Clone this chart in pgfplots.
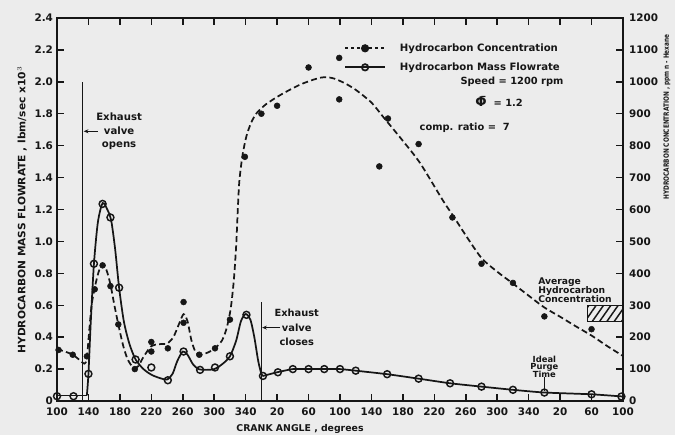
\documentclass[border=0pt]{standalone}
\usepackage{fontspec}
\setmainfont{DejaVu Sans}
\usepackage{pgfplots}
\pgfplotsset{compat=1.18}
\usetikzlibrary{patterns.meta,arrows.meta}
\definecolor{paper}{RGB}{236,236,236}
\definecolor{ink}{RGB}{22,22,22}

\newcommand{\lab}[1]{\fontsize{#1}{#1}\selectfont\bfseries}

\pgfplotsset{
  common/.style={
    at={(42.75pt,25.5pt)}, anchor=south west,
    width=424.5pt, height=287.25pt, scale only axis,
    xmin=100, xmax=820,
    tick align=inside, major tick length=5pt,
    every tick/.style={ink, line width=1.1pt},
    axis line style={ink, line width=1.4pt},
    tick label style={font=\lab{7.8}, text=ink},
    /pgf/number format/assume math mode=true,
    /pgf/number format/1000 sep={},
    clip=false,
  },
}

\begin{document}
\begin{tikzpicture}[x=1pt,y=1pt]
\fill[paper] (0,0) rectangle (506.25,326.25);

% ---------- left axis: mass flowrate ----------
\begin{axis}[common,
  ymin=0, ymax=2.4,
  xtick={100,140,...,820},
  xticklabels={100,140,180,220,260,300,340,20,60,100,140,180,220,260,300,340,20,60,100},
  xtick pos=both, xticklabel pos=lower,
  ytick={0,0.2,0.4,0.6,0.8,1.0,1.2,1.4,1.6,1.8,2.0,2.2,2.4},
  yticklabels={0,0.2,0.4,0.6,0.8,1.0,1.2,1.4,1.6,1.8,2.0,2.2,2.4},
  ytick pos=left, yticklabel pos=left,
  xticklabel style={yshift=-1.5pt},
  yticklabel style={xshift=0.5pt},
]
% valve events
\addplot[ink, line width=0.8pt] coordinates {(133,0) (133,2.0)};
\addplot[ink, line width=0.8pt] coordinates {(360,0) (360,0.62)};

% mass flowrate curve
\addplot[ink, line width=1.3pt] coordinates {(100,0.035) (138,0.035)};
\addplot[ink, line width=1.3pt, smooth, tension=0.45] coordinates {
  (138,0.035) (140,0.17) (143,0.5) (147,0.86) (152,1.12) (158,1.24) (164,1.2)
  (169,1.13) (174,0.95) (179,0.71) (185,0.5) (192,0.36) (200,0.26) (210,0.2)
  (220,0.165) (230,0.145) (240,0.135) (247,0.17) (253,0.25) (260,0.31)
  (266,0.29) (273,0.23) (280,0.2) (290,0.195) (300,0.2) (310,0.23) (320,0.28)
  (328,0.38) (334,0.5) (340,0.545) (346,0.51) (351,0.4) (356,0.25) (360,0.17)
  (362,0.157)};
\addplot[ink, line width=1.3pt, smooth, tension=0.3] coordinates {
  (362,0.157) (380,0.18) (400,0.2) (420,0.2) (440,0.2) (460,0.2) (480,0.19)
  (520,0.168) (560,0.14) (600,0.111) (640,0.09) (680,0.07) (720,0.053)
  (780,0.042) (820,0.028)};
% measured mass flowrate
\addplot[only marks, mark=o, mark size=2.6pt,
  mark options={ink, line width=1.1pt, fill=paper}] coordinates {
  (100,0.03) (121,0.03) (140,0.17) (147,0.86) (158,1.235) (168,1.15)
  (179,0.71) (200,0.26) (220,0.21) (241,0.13) (261,0.31) (282,0.195)
  (301,0.21) (320,0.28) (341,0.54) (362,0.157) (381,0.18) (400,0.2)
  (420,0.2) (440,0.2) (460,0.2) (480,0.19) (520,0.168) (560,0.14)
  (600,0.111) (640,0.09) (680,0.07) (720,0.053) (780,0.042) (818,0.028)};

% annotations
\node[align=center, font=\lab{7.6}, text=ink, inner sep=0pt]
  at (axis cs:179,1.69) {Exhaust\\[2.6pt]valve\\[2.6pt]opens};
\draw[ink, line width=1pt, -{Stealth[length=3.5pt,width=3pt]}]
  (axis cs:152,1.69) -- (axis cs:134,1.69);
\node[align=center, font=\lab{7.4}, text=ink, inner sep=0pt]
  at (axis cs:405,0.46) {Exhaust\\[3.6pt]valve\\[3.6pt]closes};
\draw[ink, line width=1pt, -{Stealth[length=3.5pt,width=3pt]}]
  (axis cs:384,0.46) -- (axis cs:361,0.46);
\node[align=center, font=\lab{6.3}, text=ink, inner sep=0pt]
  at (axis cs:720,0.215) {Ideal\\[-0.5pt]Purge\\[-0.5pt]Time};
\addplot[ink, line width=0.8pt] coordinates {(720,0.065) (720,0.15)};

\node[anchor=west, font=\lab{7.4}, text=ink, inner sep=0pt]
  at (axis cs:613,2.0) {Speed = 1200 rpm};
\node[anchor=west, font=\lab{7.4}, text=ink, inner sep=0pt]
  at (axis cs:632,1.875) {{\lab{10}\={Φ}} \ = 1.2};
\node[anchor=west, font=\lab{7.4}, text=ink, inner sep=0pt]
  at (axis cs:561,1.71) {comp. ratio = \ 7};
\node[anchor=west, align=left, font=\lab{6.9}, text=ink, inner sep=0pt]
  at (axis cs:712,0.695) {Average\\[0pt]Hydrocarbon\\[0pt]Concentration};
\end{axis}

% ---------- right axis: concentration ----------
\begin{axis}[common,
  ymin=0, ymax=1200,
  axis x line=none, axis y line*=right,
  ytick={0,100,...,1200},
  yticklabel style={xshift=1pt},
  legend style={draw=none, fill=none, at={(0.507,0.896)}, anchor=west,
    font=\lab{7.6}, text=ink, row sep=4pt, inner sep=0pt,
    nodes={inner sep=1.5pt}},
  legend cell align=left,
  legend image code/.code={
    \draw[#1, mark repeat=2, mark phase=2]
      plot coordinates {(0pt,0pt) (15pt,0pt) (30pt,0pt)};},
]
\addlegendimage{ink, line width=1.3pt, dash pattern=on 2.5pt off 2pt,
  mark=*, mark size=2.4pt, mark options={solid, fill=ink}}
\addlegendentry{\hspace{9pt}Hydrocarbon Concentration}
\addlegendimage{ink, line width=1.3pt, mark=o, mark size=2.4pt,
  mark options={fill=paper}}
\addlegendentry{\hspace{9pt}Hydrocarbon Mass Flowrate}

% concentration curve
\addplot[ink, line width=1.3pt, dash pattern=on 4.5pt off 2.5pt, smooth, tension=0.45]
  coordinates {
  (100,162) (110,155) (120,145) (128,130) (135,117) (138,135) (141,220)
  (144,300) (148,355) (153,405) (158,428) (163,410) (168,365) (173,300)
  (178,240) (184,175) (190,130) (197,105) (203,108) (210,138) (220,172)
  (230,178) (240,180) (248,200) (255,240) (261,272) (266,250) (271,190)
  (276,155) (282,145) (292,152) (301,165) (310,190) (316,230) (321,290)
  (325,380) (328,490) (330,600) (332,690) (336,770) (341,830) (347,872)
  (354,902) (366,930) (385,960) (410,992) (435,1013) (450,1012) (465,997)
  (480,975) (500,935) (515,890) (540,815) (562,745) (591,628) (604,580)
  (620,519) (640,448) (660,405) (680,368) (700,330) (720,293) (740,264)
  (760,234) (780,205) (800,172) (820,141)};
% measured concentration
\addplot[only marks, mark=*, mark size=2.2pt, mark options={ink, fill=ink}]
  coordinates {
  (102,160) (120,145) (138,140) (148,350) (158,425) (168,360) (178,240)
  (199,100) (220,155) (220,185) (241,165) (261,310) (261,245) (281,145)
  (301,165) (320,255) (339,765) (360,900) (380,925) (420,1045) (459,1075)
  (459,945) (510,735) (521,885) (560,805) (603,575) (640,430) (680,370)
  (720,265) (780,225)};

% average concentration band
\draw[ink, line width=1pt,
  pattern={Lines[angle=55, distance=4.5pt, line width=1.1pt]}, pattern color=ink]
  (axis cs:775,250) rectangle (axis cs:820,300);
\end{axis}

% axis titles
\node[rotate=90, font=\lab{7.6}, text=ink, inner sep=0pt] at (16.5,168.75)
  {\scalebox{1.05}[1]{HYDROCARBON MASS FLOWRATE , lbm/sec x10$^{3}$}};
\node[rotate=90, font=\lab{5.4}, text=ink, inner sep=0pt] at (500.25,238.5)
  {\scalebox{0.8}[1]{HYDROCARBON CONCENTRATION , ppm n - Hexane}};
\node[font=\lab{7}, text=ink, inner sep=0pt] at (225,4.8)
  {CRANK ANGLE , degrees};

\pgfresetboundingbox
\path (0,0) rectangle (506.25,326.25);
\end{tikzpicture}
\end{document}
